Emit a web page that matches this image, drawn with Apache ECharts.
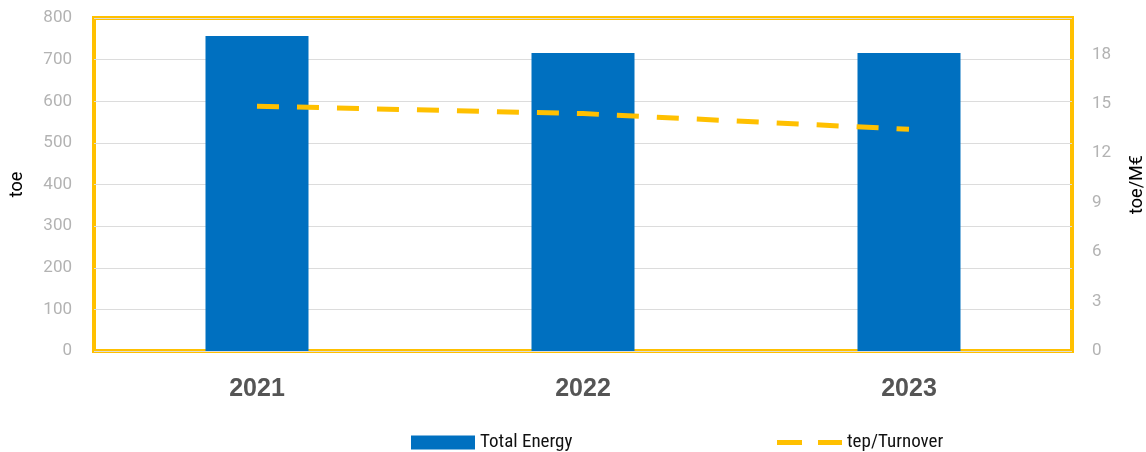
<!DOCTYPE html>
<html>
<head>
<meta charset="utf-8">
<script src="https://cdn.jsdelivr.net/npm/echarts@6/dist/echarts.min.js"></script>
<style>
  html, body { margin: 0; padding: 0; background: #ffffff; }
  #chart { width: 1146px; height: 452px; }
</style>
</head>
<body>
<div id="chart"></div>
<script>
// Energy consumption by year
const years = ['2021', '2022', '2023'];
const totalEnergy = [757, 716, 716];          // toe
const intensity = [14.85, 14.4, 13.45];       // toe per M€ of turnover
const leftTicks = { min: 0, max: 800, interval: 100 };
const rightTicks = { min: 0, max: 20.2, interval: 3 };

const YELLOW = '#FFC000';
const BLUE = '#0070C0';
const condensed = "'Roboto Condensed', 'Liberation Sans Narrow', 'Arial Narrow', Roboto, sans-serif";

// two dashes for the intensity legend key
const dashIcon = 'path://M0,0 L25,0 L25,5 L0,5 Z M41,0 L65,0 L65,5 L41,5 Z';

const chart = echarts.init(document.getElementById('chart'), null, { renderer: 'canvas' });

chart.setOption({
  animation: false,
  backgroundColor: '#ffffff',
  grid: {
    left: 94, right: 74, top: 18, bottom: 101,
    containLabel: false,
    outerBoundsMode: 'none',
    show: true,
    borderColor: YELLOW,
    borderWidth: 4,
    backgroundColor: 'transparent'
  },
  legend: [
    {
      data: ['Total Energy'],
      left: 406, top: 428,
      itemWidth: 64, itemHeight: 14,
      itemGap: 0,
      textStyle: { fontFamily: condensed, fontSize: 19, color: '#111' },
      icon: 'rect'
    },
    {
      data: [{ name: 'tep/Turnover', icon: dashIcon }],
      left: 772, top: 428,
      itemWidth: 65, itemHeight: 5,
      itemGap: 0,
      itemStyle: { color: YELLOW, borderWidth: 0 },
      lineStyle: { width: 0 },
      textStyle: { fontFamily: condensed, fontSize: 19, color: '#111' }
    }
  ],
  xAxis: {
    type: 'category',
    data: years,
    boundaryGap: true,
    axisLine: { show: false },
    axisTick: { show: false },
    axisLabel: {
      margin: 26,
      fontFamily: "'Liberation Sans', Arial, sans-serif",
      fontWeight: 'bold',
      fontSize: 25,
      color: '#555555'
    }
  },
  yAxis: [
    {
      type: 'value',
      min: leftTicks.min, max: leftTicks.max, interval: leftTicks.interval,
      name: 'toe',
      nameLocation: 'middle',
      nameRotate: 90,
      nameGap: 68,
      nameTextStyle: { fontFamily: 'Roboto, sans-serif', fontSize: 18, color: '#000' },
      axisLine: { show: false },
      axisTick: { show: false },
      axisLabel: {
        margin: 22,
        fontFamily: 'Roboto, sans-serif',
        fontSize: 17,
        color: '#b3b3b3'
      },
      splitLine: { show: true, lineStyle: { color: '#dcdcdc', width: 1 } }
    },
    {
      type: 'value',
      position: 'right',
      min: rightTicks.min, max: rightTicks.max, interval: rightTicks.interval,
      name: 'toe/M€',
      nameLocation: 'middle',
      nameRotate: 90,
      nameGap: 56,
      nameTextStyle: { fontFamily: 'Roboto, sans-serif', fontSize: 18, color: '#000' },
      axisLine: { show: false },
      axisTick: { show: false },
      axisLabel: {
        margin: 20,
        fontFamily: 'Roboto, sans-serif',
        fontSize: 17,
        color: '#b3b3b3',
        showMaxLabel: false,
        formatter: v => (Math.abs(v % rightTicks.interval) < 1e-9 ? String(v) : '')
      },
      splitLine: { show: false }
    }
  ],
  series: [
    {
      name: 'Total Energy',
      type: 'bar',
      data: totalEnergy,
      barWidth: 103,
      itemStyle: { color: BLUE },
      z: 2
    },
    {
      name: 'tep/Turnover',
      type: 'line',
      yAxisIndex: 1,
      data: intensity,
      symbol: 'none',
      lineStyle: { color: YELLOW, width: 5, type: [22, 18] },
      itemStyle: { color: YELLOW },
      z: 3
    }
  ]
});
</script>
</body>
</html>
